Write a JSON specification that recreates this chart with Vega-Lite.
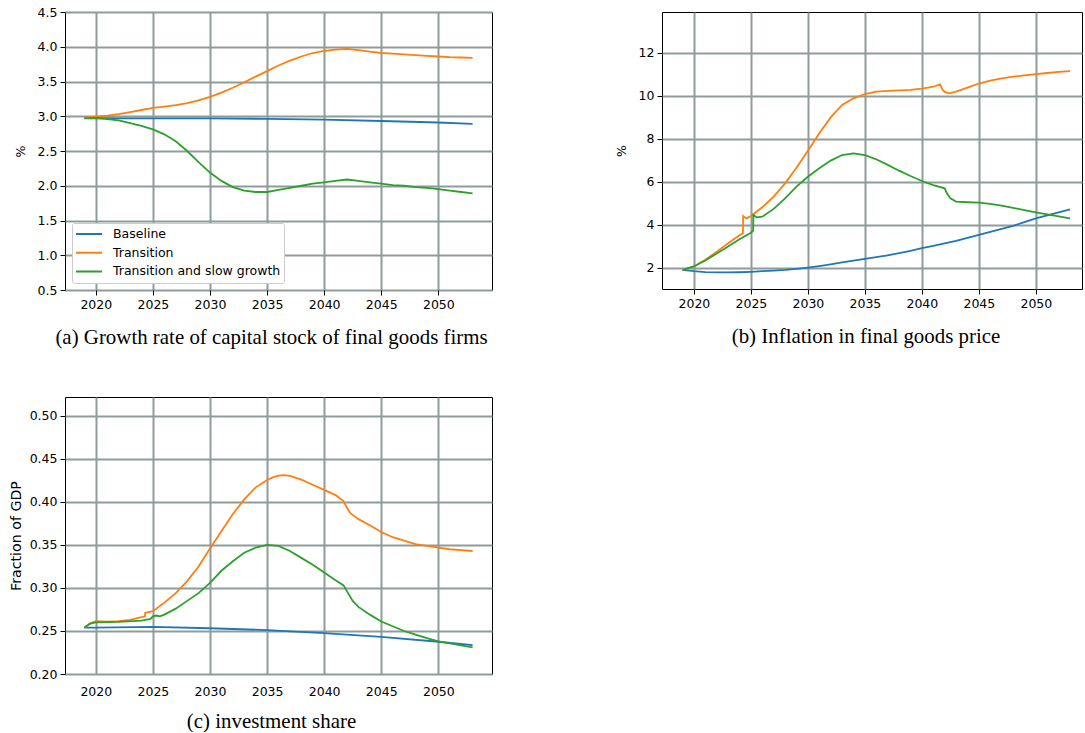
{
  "$schema": "https://vega.github.io/schema/vega-lite/v6.json",
  "padding": {"left": 8, "top": 5, "right": 0, "bottom": 0},
  "background": "white",
  "columns": 2,
  "bounds": "flush",
  "spacing": {"row": 107, "column": 170},
  "datasets": {
    "a": [
      {"s": "Baseline", "x": 2019, "y": 2.975},
      {"s": "Baseline", "x": 2022, "y": 2.97},
      {"s": "Baseline", "x": 2025, "y": 2.97},
      {"s": "Baseline", "x": 2030, "y": 2.968},
      {"s": "Baseline", "x": 2035, "y": 2.963},
      {"s": "Baseline", "x": 2040, "y": 2.952},
      {"s": "Baseline", "x": 2045, "y": 2.932},
      {"s": "Baseline", "x": 2050, "y": 2.91},
      {"s": "Baseline", "x": 2053, "y": 2.89},
      {"s": "Transition", "x": 2019, "y": 2.98},
      {"s": "Transition", "x": 2020, "y": 2.995},
      {"s": "Transition", "x": 2021, "y": 3.01},
      {"s": "Transition", "x": 2022, "y": 3.03},
      {"s": "Transition", "x": 2023, "y": 3.06},
      {"s": "Transition", "x": 2024, "y": 3.09},
      {"s": "Transition", "x": 2025, "y": 3.12},
      {"s": "Transition", "x": 2026, "y": 3.14},
      {"s": "Transition", "x": 2027, "y": 3.16},
      {"s": "Transition", "x": 2028, "y": 3.19},
      {"s": "Transition", "x": 2029, "y": 3.23},
      {"s": "Transition", "x": 2030, "y": 3.28},
      {"s": "Transition", "x": 2031, "y": 3.34},
      {"s": "Transition", "x": 2032, "y": 3.41},
      {"s": "Transition", "x": 2033, "y": 3.49},
      {"s": "Transition", "x": 2034, "y": 3.57},
      {"s": "Transition", "x": 2035, "y": 3.65},
      {"s": "Transition", "x": 2036, "y": 3.73},
      {"s": "Transition", "x": 2037, "y": 3.8},
      {"s": "Transition", "x": 2038, "y": 3.86},
      {"s": "Transition", "x": 2039, "y": 3.91},
      {"s": "Transition", "x": 2040, "y": 3.94},
      {"s": "Transition", "x": 2041, "y": 3.96},
      {"s": "Transition", "x": 2042, "y": 3.97},
      {"s": "Transition", "x": 2043, "y": 3.95},
      {"s": "Transition", "x": 2044, "y": 3.93},
      {"s": "Transition", "x": 2045, "y": 3.91},
      {"s": "Transition", "x": 2046, "y": 3.9},
      {"s": "Transition", "x": 2047, "y": 3.89},
      {"s": "Transition", "x": 2048, "y": 3.88},
      {"s": "Transition", "x": 2049, "y": 3.87},
      {"s": "Transition", "x": 2050, "y": 3.86},
      {"s": "Transition", "x": 2051, "y": 3.85},
      {"s": "Transition", "x": 2052, "y": 3.845},
      {"s": "Transition", "x": 2053, "y": 3.84},
      {"s": "Transition and slow growth", "x": 2019, "y": 2.97},
      {"s": "Transition and slow growth", "x": 2020, "y": 2.975},
      {"s": "Transition and slow growth", "x": 2021, "y": 2.96},
      {"s": "Transition and slow growth", "x": 2022, "y": 2.94},
      {"s": "Transition and slow growth", "x": 2023, "y": 2.9},
      {"s": "Transition and slow growth", "x": 2024, "y": 2.86},
      {"s": "Transition and slow growth", "x": 2025, "y": 2.81},
      {"s": "Transition and slow growth", "x": 2026, "y": 2.74},
      {"s": "Transition and slow growth", "x": 2027, "y": 2.64},
      {"s": "Transition and slow growth", "x": 2028, "y": 2.5},
      {"s": "Transition and slow growth", "x": 2029, "y": 2.34},
      {"s": "Transition and slow growth", "x": 2030, "y": 2.19},
      {"s": "Transition and slow growth", "x": 2031, "y": 2.07},
      {"s": "Transition and slow growth", "x": 2032, "y": 1.98},
      {"s": "Transition and slow growth", "x": 2033, "y": 1.93},
      {"s": "Transition and slow growth", "x": 2034, "y": 1.91},
      {"s": "Transition and slow growth", "x": 2035, "y": 1.91},
      {"s": "Transition and slow growth", "x": 2036, "y": 1.94},
      {"s": "Transition and slow growth", "x": 2037, "y": 1.97},
      {"s": "Transition and slow growth", "x": 2038, "y": 2.0},
      {"s": "Transition and slow growth", "x": 2039, "y": 2.03},
      {"s": "Transition and slow growth", "x": 2040, "y": 2.05},
      {"s": "Transition and slow growth", "x": 2041, "y": 2.07},
      {"s": "Transition and slow growth", "x": 2042, "y": 2.09},
      {"s": "Transition and slow growth", "x": 2043, "y": 2.07},
      {"s": "Transition and slow growth", "x": 2044, "y": 2.05},
      {"s": "Transition and slow growth", "x": 2045, "y": 2.03},
      {"s": "Transition and slow growth", "x": 2046, "y": 2.01},
      {"s": "Transition and slow growth", "x": 2047, "y": 2.0},
      {"s": "Transition and slow growth", "x": 2048, "y": 1.98},
      {"s": "Transition and slow growth", "x": 2049, "y": 1.97},
      {"s": "Transition and slow growth", "x": 2050, "y": 1.95},
      {"s": "Transition and slow growth", "x": 2051, "y": 1.93},
      {"s": "Transition and slow growth", "x": 2052, "y": 1.91},
      {"s": "Transition and slow growth", "x": 2053, "y": 1.89}
    ],
    "b": [
      {"s": "Baseline", "x": 2019, "y": 1.89},
      {"s": "Baseline", "x": 2020, "y": 1.83},
      {"s": "Baseline", "x": 2021, "y": 1.79},
      {"s": "Baseline", "x": 2022, "y": 1.77},
      {"s": "Baseline", "x": 2023, "y": 1.77},
      {"s": "Baseline", "x": 2024, "y": 1.78},
      {"s": "Baseline", "x": 2025, "y": 1.8},
      {"s": "Baseline", "x": 2026, "y": 1.83},
      {"s": "Baseline", "x": 2027, "y": 1.86},
      {"s": "Baseline", "x": 2028, "y": 1.89},
      {"s": "Baseline", "x": 2029, "y": 1.94},
      {"s": "Baseline", "x": 2030, "y": 2.0},
      {"s": "Baseline", "x": 2031, "y": 2.07},
      {"s": "Baseline", "x": 2032, "y": 2.15},
      {"s": "Baseline", "x": 2033, "y": 2.24},
      {"s": "Baseline", "x": 2034, "y": 2.32},
      {"s": "Baseline", "x": 2035, "y": 2.4},
      {"s": "Baseline", "x": 2036, "y": 2.48},
      {"s": "Baseline", "x": 2037, "y": 2.57},
      {"s": "Baseline", "x": 2038, "y": 2.67},
      {"s": "Baseline", "x": 2039, "y": 2.78},
      {"s": "Baseline", "x": 2040, "y": 2.9},
      {"s": "Baseline", "x": 2041, "y": 3.01},
      {"s": "Baseline", "x": 2042, "y": 3.12},
      {"s": "Baseline", "x": 2043, "y": 3.24},
      {"s": "Baseline", "x": 2044, "y": 3.38},
      {"s": "Baseline", "x": 2045, "y": 3.52},
      {"s": "Baseline", "x": 2046, "y": 3.66},
      {"s": "Baseline", "x": 2047, "y": 3.8},
      {"s": "Baseline", "x": 2048, "y": 3.94},
      {"s": "Baseline", "x": 2049, "y": 4.11},
      {"s": "Baseline", "x": 2050, "y": 4.29},
      {"s": "Baseline", "x": 2051, "y": 4.43},
      {"s": "Baseline", "x": 2052, "y": 4.57},
      {"s": "Baseline", "x": 2053, "y": 4.71},
      {"s": "Transition", "x": 2019, "y": 1.89},
      {"s": "Transition", "x": 2020, "y": 2.05},
      {"s": "Transition", "x": 2021, "y": 2.36},
      {"s": "Transition", "x": 2022, "y": 2.74},
      {"s": "Transition", "x": 2023, "y": 3.13},
      {"s": "Transition", "x": 2024, "y": 3.5},
      {"s": "Transition", "x": 2024.3, "y": 3.6},
      {"s": "Transition", "x": 2024.32, "y": 4.4},
      {"s": "Transition", "x": 2024.6, "y": 4.29},
      {"s": "Transition", "x": 2025, "y": 4.4},
      {"s": "Transition", "x": 2026, "y": 4.81},
      {"s": "Transition", "x": 2027, "y": 5.3},
      {"s": "Transition", "x": 2028, "y": 5.92},
      {"s": "Transition", "x": 2029, "y": 6.65},
      {"s": "Transition", "x": 2030, "y": 7.44},
      {"s": "Transition", "x": 2031, "y": 8.25},
      {"s": "Transition", "x": 2032, "y": 8.99},
      {"s": "Transition", "x": 2033, "y": 9.57},
      {"s": "Transition", "x": 2034, "y": 9.88},
      {"s": "Transition", "x": 2035, "y": 10.08},
      {"s": "Transition", "x": 2036, "y": 10.19},
      {"s": "Transition", "x": 2037, "y": 10.23},
      {"s": "Transition", "x": 2038, "y": 10.25},
      {"s": "Transition", "x": 2039, "y": 10.27},
      {"s": "Transition", "x": 2040, "y": 10.33},
      {"s": "Transition", "x": 2041, "y": 10.42},
      {"s": "Transition", "x": 2041.6, "y": 10.53},
      {"s": "Transition", "x": 2041.8, "y": 10.29},
      {"s": "Transition", "x": 2042, "y": 10.18},
      {"s": "Transition", "x": 2042.4, "y": 10.11},
      {"s": "Transition", "x": 2043, "y": 10.19},
      {"s": "Transition", "x": 2044, "y": 10.38},
      {"s": "Transition", "x": 2045, "y": 10.57},
      {"s": "Transition", "x": 2046, "y": 10.7},
      {"s": "Transition", "x": 2047, "y": 10.81},
      {"s": "Transition", "x": 2048, "y": 10.89},
      {"s": "Transition", "x": 2049, "y": 10.95},
      {"s": "Transition", "x": 2050, "y": 11.01},
      {"s": "Transition", "x": 2051, "y": 11.06},
      {"s": "Transition", "x": 2052, "y": 11.11},
      {"s": "Transition", "x": 2053, "y": 11.15},
      {"s": "Transition and slow growth", "x": 2019, "y": 1.89},
      {"s": "Transition and slow growth", "x": 2020, "y": 2.05},
      {"s": "Transition and slow growth", "x": 2021, "y": 2.33},
      {"s": "Transition and slow growth", "x": 2022, "y": 2.65},
      {"s": "Transition and slow growth", "x": 2023, "y": 2.98},
      {"s": "Transition and slow growth", "x": 2024, "y": 3.32},
      {"s": "Transition and slow growth", "x": 2025, "y": 3.62},
      {"s": "Transition and slow growth", "x": 2025.2, "y": 3.71},
      {"s": "Transition and slow growth", "x": 2025.22, "y": 4.45},
      {"s": "Transition and slow growth", "x": 2025.5, "y": 4.34},
      {"s": "Transition and slow growth", "x": 2026, "y": 4.37},
      {"s": "Transition and slow growth", "x": 2027, "y": 4.73},
      {"s": "Transition and slow growth", "x": 2028, "y": 5.22},
      {"s": "Transition and slow growth", "x": 2029, "y": 5.77},
      {"s": "Transition and slow growth", "x": 2030, "y": 6.23},
      {"s": "Transition and slow growth", "x": 2031, "y": 6.62},
      {"s": "Transition and slow growth", "x": 2032, "y": 6.98},
      {"s": "Transition and slow growth", "x": 2033, "y": 7.24},
      {"s": "Transition and slow growth", "x": 2034, "y": 7.32},
      {"s": "Transition and slow growth", "x": 2035, "y": 7.24},
      {"s": "Transition and slow growth", "x": 2036, "y": 7.04},
      {"s": "Transition and slow growth", "x": 2037, "y": 6.78},
      {"s": "Transition and slow growth", "x": 2038, "y": 6.51},
      {"s": "Transition and slow growth", "x": 2039, "y": 6.26},
      {"s": "Transition and slow growth", "x": 2040, "y": 6.03},
      {"s": "Transition and slow growth", "x": 2041, "y": 5.84},
      {"s": "Transition and slow growth", "x": 2042, "y": 5.69},
      {"s": "Transition and slow growth", "x": 2042.2, "y": 5.46},
      {"s": "Transition and slow growth", "x": 2042.5, "y": 5.22},
      {"s": "Transition and slow growth", "x": 2043, "y": 5.07},
      {"s": "Transition and slow growth", "x": 2044, "y": 5.04},
      {"s": "Transition and slow growth", "x": 2045, "y": 5.02},
      {"s": "Transition and slow growth", "x": 2046, "y": 4.96},
      {"s": "Transition and slow growth", "x": 2047, "y": 4.88},
      {"s": "Transition and slow growth", "x": 2048, "y": 4.78},
      {"s": "Transition and slow growth", "x": 2049, "y": 4.67},
      {"s": "Transition and slow growth", "x": 2050, "y": 4.57},
      {"s": "Transition and slow growth", "x": 2051, "y": 4.47},
      {"s": "Transition and slow growth", "x": 2052, "y": 4.38},
      {"s": "Transition and slow growth", "x": 2053, "y": 4.29}
    ],
    "c": [
      {"s": "Baseline", "x": 2019, "y": 0.254},
      {"s": "Baseline", "x": 2020, "y": 0.254},
      {"s": "Baseline", "x": 2025, "y": 0.2547},
      {"s": "Baseline", "x": 2030, "y": 0.2532},
      {"s": "Baseline", "x": 2035, "y": 0.251},
      {"s": "Baseline", "x": 2040, "y": 0.2475},
      {"s": "Baseline", "x": 2045, "y": 0.2432},
      {"s": "Baseline", "x": 2050, "y": 0.2375},
      {"s": "Baseline", "x": 2053, "y": 0.2335},
      {"s": "Transition", "x": 2019, "y": 0.254},
      {"s": "Transition", "x": 2019.5, "y": 0.2586},
      {"s": "Transition", "x": 2020, "y": 0.2613},
      {"s": "Transition", "x": 2021, "y": 0.261},
      {"s": "Transition", "x": 2022, "y": 0.2615},
      {"s": "Transition", "x": 2023, "y": 0.263},
      {"s": "Transition", "x": 2024, "y": 0.266},
      {"s": "Transition", "x": 2024.3, "y": 0.267},
      {"s": "Transition", "x": 2024.32, "y": 0.271},
      {"s": "Transition", "x": 2025, "y": 0.273},
      {"s": "Transition", "x": 2026, "y": 0.283},
      {"s": "Transition", "x": 2027, "y": 0.294},
      {"s": "Transition", "x": 2028, "y": 0.308},
      {"s": "Transition", "x": 2029, "y": 0.325},
      {"s": "Transition", "x": 2030, "y": 0.346},
      {"s": "Transition", "x": 2031, "y": 0.366},
      {"s": "Transition", "x": 2032, "y": 0.386},
      {"s": "Transition", "x": 2033, "y": 0.403},
      {"s": "Transition", "x": 2034, "y": 0.417},
      {"s": "Transition", "x": 2035, "y": 0.4255},
      {"s": "Transition", "x": 2035.5, "y": 0.4285},
      {"s": "Transition", "x": 2036, "y": 0.4305},
      {"s": "Transition", "x": 2036.5, "y": 0.4312},
      {"s": "Transition", "x": 2037, "y": 0.4303},
      {"s": "Transition", "x": 2038, "y": 0.426},
      {"s": "Transition", "x": 2039, "y": 0.42},
      {"s": "Transition", "x": 2040, "y": 0.414},
      {"s": "Transition", "x": 2041, "y": 0.408},
      {"s": "Transition", "x": 2041.7, "y": 0.401},
      {"s": "Transition", "x": 2042, "y": 0.393},
      {"s": "Transition", "x": 2042.3, "y": 0.387},
      {"s": "Transition", "x": 2043, "y": 0.38},
      {"s": "Transition", "x": 2044, "y": 0.373},
      {"s": "Transition", "x": 2045, "y": 0.365},
      {"s": "Transition", "x": 2046, "y": 0.359},
      {"s": "Transition", "x": 2047, "y": 0.355},
      {"s": "Transition", "x": 2048, "y": 0.351},
      {"s": "Transition", "x": 2049, "y": 0.349},
      {"s": "Transition", "x": 2050, "y": 0.347},
      {"s": "Transition", "x": 2051, "y": 0.345},
      {"s": "Transition", "x": 2052, "y": 0.344},
      {"s": "Transition", "x": 2053, "y": 0.343},
      {"s": "Transition and slow growth", "x": 2019, "y": 0.254},
      {"s": "Transition and slow growth", "x": 2019.5, "y": 0.2586},
      {"s": "Transition and slow growth", "x": 2020, "y": 0.26},
      {"s": "Transition and slow growth", "x": 2022, "y": 0.2605},
      {"s": "Transition and slow growth", "x": 2024, "y": 0.262},
      {"s": "Transition and slow growth", "x": 2024.8, "y": 0.264},
      {"s": "Transition and slow growth", "x": 2025, "y": 0.267},
      {"s": "Transition and slow growth", "x": 2025.3, "y": 0.268},
      {"s": "Transition and slow growth", "x": 2025.6, "y": 0.267},
      {"s": "Transition and slow growth", "x": 2026, "y": 0.269},
      {"s": "Transition and slow growth", "x": 2027, "y": 0.276},
      {"s": "Transition and slow growth", "x": 2028, "y": 0.285},
      {"s": "Transition and slow growth", "x": 2029, "y": 0.294},
      {"s": "Transition and slow growth", "x": 2030, "y": 0.306},
      {"s": "Transition and slow growth", "x": 2031, "y": 0.32},
      {"s": "Transition and slow growth", "x": 2032, "y": 0.331},
      {"s": "Transition and slow growth", "x": 2033, "y": 0.341},
      {"s": "Transition and slow growth", "x": 2034, "y": 0.347},
      {"s": "Transition and slow growth", "x": 2035, "y": 0.35},
      {"s": "Transition and slow growth", "x": 2036, "y": 0.349},
      {"s": "Transition and slow growth", "x": 2037, "y": 0.343},
      {"s": "Transition and slow growth", "x": 2038, "y": 0.335},
      {"s": "Transition and slow growth", "x": 2039, "y": 0.327},
      {"s": "Transition and slow growth", "x": 2040, "y": 0.318},
      {"s": "Transition and slow growth", "x": 2041, "y": 0.309},
      {"s": "Transition and slow growth", "x": 2041.7, "y": 0.303},
      {"s": "Transition and slow growth", "x": 2042, "y": 0.296},
      {"s": "Transition and slow growth", "x": 2042.5, "y": 0.285},
      {"s": "Transition and slow growth", "x": 2043, "y": 0.278},
      {"s": "Transition and slow growth", "x": 2044, "y": 0.269},
      {"s": "Transition and slow growth", "x": 2045, "y": 0.261},
      {"s": "Transition and slow growth", "x": 2046, "y": 0.2555},
      {"s": "Transition and slow growth", "x": 2047, "y": 0.25},
      {"s": "Transition and slow growth", "x": 2048, "y": 0.2458},
      {"s": "Transition and slow growth", "x": 2049, "y": 0.2418},
      {"s": "Transition and slow growth", "x": 2050, "y": 0.238},
      {"s": "Transition and slow growth", "x": 2051, "y": 0.2355},
      {"s": "Transition and slow growth", "x": 2052, "y": 0.2334},
      {"s": "Transition and slow growth", "x": 2053, "y": 0.231}
    ]
  },
  "concat": [
    {
      "width": 427,
      "height": 278,
      "title": {"text": "(a) Growth rate of capital stock of final goods firms", "dx": -7},
      "data": {"name": "a"},
      "mark": {"type": "line", "strokeWidth": 1.8},
      "encoding": {
        "x": {
          "field": "x", "type": "quantitative",
          "scale": {"domain": [2017.3, 2054.7], "nice": false, "zero": false},
          "axis": {"title": null, "values": [2020, 2025, 2030, 2035, 2040, 2045, 2050], "format": "d"}
        },
        "y": {
          "field": "y", "type": "quantitative",
          "scale": {"domain": [0.5, 4.5], "nice": false, "zero": false},
          "axis": {"title": "%", "values": [0.5, 1, 1.5, 2, 2.5, 3, 3.5, 4, 4.5], "format": ".1f"}
        },
        "color": {
          "field": "s", "type": "nominal",
          "scale": {"domain": ["Baseline", "Transition", "Transition and slow growth"], "range": ["#1f77b4", "#ff7f0e", "#2ca02c"]},
          "legend": {"title": null, "legendX": 7, "legendY": 211}
        }
      }
    },
    {
      "width": 420,
      "height": 277,
      "title": {"text": "(b) Inflation in final goods price", "dx": -6},
      "data": {"name": "b"},
      "mark": {"type": "line", "strokeWidth": 1.8},
      "encoding": {
        "x": {
          "field": "x", "type": "quantitative",
          "scale": {"domain": [2017.2, 2054.05], "nice": false, "zero": false},
          "axis": {"title": null, "values": [2020, 2025, 2030, 2035, 2040, 2045, 2050], "format": "d"}
        },
        "y": {
          "field": "y", "type": "quantitative",
          "scale": {"domain": [1.0, 13.9], "nice": false, "zero": false},
          "axis": {"title": "%", "values": [2, 4, 6, 8, 10, 12], "format": "d"}
        },
        "color": {
          "field": "s", "type": "nominal",
          "scale": {"domain": ["Baseline", "Transition", "Transition and slow growth"], "range": ["#1f77b4", "#ff7f0e", "#2ca02c"]},
          "legend": {"title": null, "legendX": 7, "legendY": 6}
        }
      }
    },
    {
      "width": 427,
      "height": 277,
      "title": {"text": "(c) investment share", "dx": -7, "offset": 13},
      "data": {"name": "c"},
      "mark": {"type": "line", "strokeWidth": 1.8},
      "encoding": {
        "x": {
          "field": "x", "type": "quantitative",
          "scale": {"domain": [2017.3, 2054.7], "nice": false, "zero": false},
          "axis": {"title": null, "values": [2020, 2025, 2030, 2035, 2040, 2045, 2050], "format": "d", "ticks": false, "labelPadding": 11}
        },
        "y": {
          "field": "y", "type": "quantitative",
          "scale": {"domain": [0.2, 0.522], "nice": false, "zero": false},
          "axis": {"title": "Fraction of GDP", "titleFontSize": 14.2, "titlePadding": 6, "values": [0.2, 0.25, 0.3, 0.35, 0.4, 0.45, 0.5], "format": ".2f"}
        },
        "color": {
          "field": "s", "type": "nominal",
          "scale": {"domain": ["Baseline", "Transition", "Transition and slow growth"], "range": ["#1f77b4", "#ff7f0e", "#2ca02c"]},
          "legend": {"title": null, "legendX": 7, "legendY": 8}
        }
      }
    }
  ],
  "config": {
    "font": "DejaVu Sans",
    "view": {"stroke": "black", "strokeWidth": 1},
    "axis": {
      "grid": true,
      "gridColor": "#909c9c",
      "gridWidth": 2,
      "gridOpacity": 1,
      "domain": false,
      "tickColor": "black",
      "tickSize": 5,
      "tickWidth": 1,
      "labelPadding": 3,
      "labelFont": "DejaVu Sans",
      "labelFontSize": 12.5,
      "labelColor": "black",
      "titleFont": "DejaVu Sans",
      "titleFontSize": 12.5,
      "titleFontWeight": "normal",
      "titleColor": "black",
      "titlePadding": 10
    },
    "legend": {
      "orient": "none",
      "fillColor": "white",
      "strokeColor": "#cccccc",
      "cornerRadius": 2,
      "padding": 3,
      "clipHeight": 16,
      "symbolType": "stroke",
      "symbolSize": 676,
      "symbolStrokeWidth": 2,
      "labelFont": "DejaVu Sans",
      "labelFontSize": 12.5,
      "labelColor": "black",
      "labelOffset": 10,
      "labelLimit": 400,
      "rowPadding": 2.7
    },
    "title": {
      "orient": "bottom",
      "anchor": "middle",
      "font": "Liberation Serif",
      "fontSize": 20.9,
      "fontWeight": "normal",
      "color": "black",
      "offset": 16
    }
  }
}
